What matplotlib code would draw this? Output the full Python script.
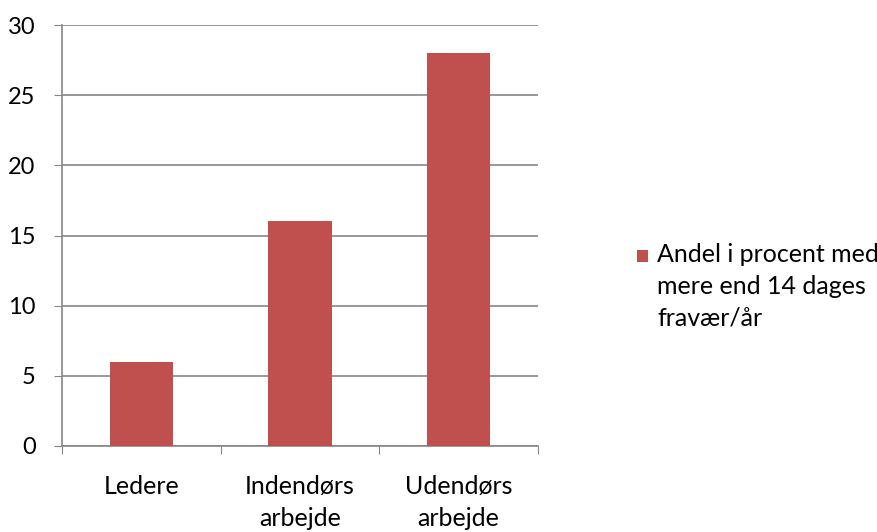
import matplotlib
matplotlib.use("Agg")
import matplotlib.pyplot as plt
from matplotlib.patches import Rectangle
from matplotlib.transforms import blended_transform_factory

categories = ["Ledere", "Indendørs\narbejde", "Udendørs\narbejde"]
values = [6, 16, 28]
series_name = "Andel i procent med\nmere end 14 dages\nfravær/år"
y_ticks = [0, 5, 10, 15, 20, 25, 30]

bar_color = "#C0504D"
grid_color = "#868686"

plt.rcParams["font.family"] = ["Lato", "DejaVu Sans"]

W, H = 878, 532


def main():
    fig = plt.figure(figsize=(W / 100, H / 100), dpi=100)
    ax = fig.add_axes([62 / W, 1 - 446 / H, 476 / W, 421 / H])

    x = list(range(len(categories)))
    ax.bar(x, values, width=0.4, color=bar_color, zorder=3)

    ax.set_xlim(-0.5, len(categories) - 0.5)
    ax.set_ylim(0, 30)
    ax.set_yticks(y_ticks)
    ax.tick_params(axis="y", labelsize=17, length=6, color=grid_color,
                   pad=13)
    ax.yaxis.grid(True, color=grid_color, linewidth=1.2, zorder=0)

    # category ticks sit on the group borders, labels in the middle
    ax.set_xticks([i - 0.5 for i in range(len(categories) + 1)])
    ax.set_xticklabels([])
    ax.tick_params(axis="x", length=6, color=grid_color)
    trans = blended_transform_factory(ax.transData, fig.transFigure)
    for i, label in enumerate(categories):
        ax.text(i, 1 - 475 / H, label, ha="center", va="top", fontsize=18,
                linespacing=1.45, transform=trans)

    for side in ["top", "right"]:
        ax.spines[side].set_visible(False)
    for side in ["left", "bottom"]:
        ax.spines[side].set_color(grid_color)
        ax.spines[side].set_linewidth(1.2)

    # legend, drawn by hand so the key sits on the first line
    fig.patches.append(Rectangle((637 / W, 1 - 262 / H), 11 / W, 12 / H,
                                 transform=fig.transFigure,
                                 facecolor=bar_color, edgecolor="none"))
    fig.text(657 / W, 1 - 243 / H, series_name, ha="left", va="top",
             fontsize=18, linespacing=1.45)

    fig.savefig("out.png", dpi=100)


if __name__ == "__main__":
    main()
